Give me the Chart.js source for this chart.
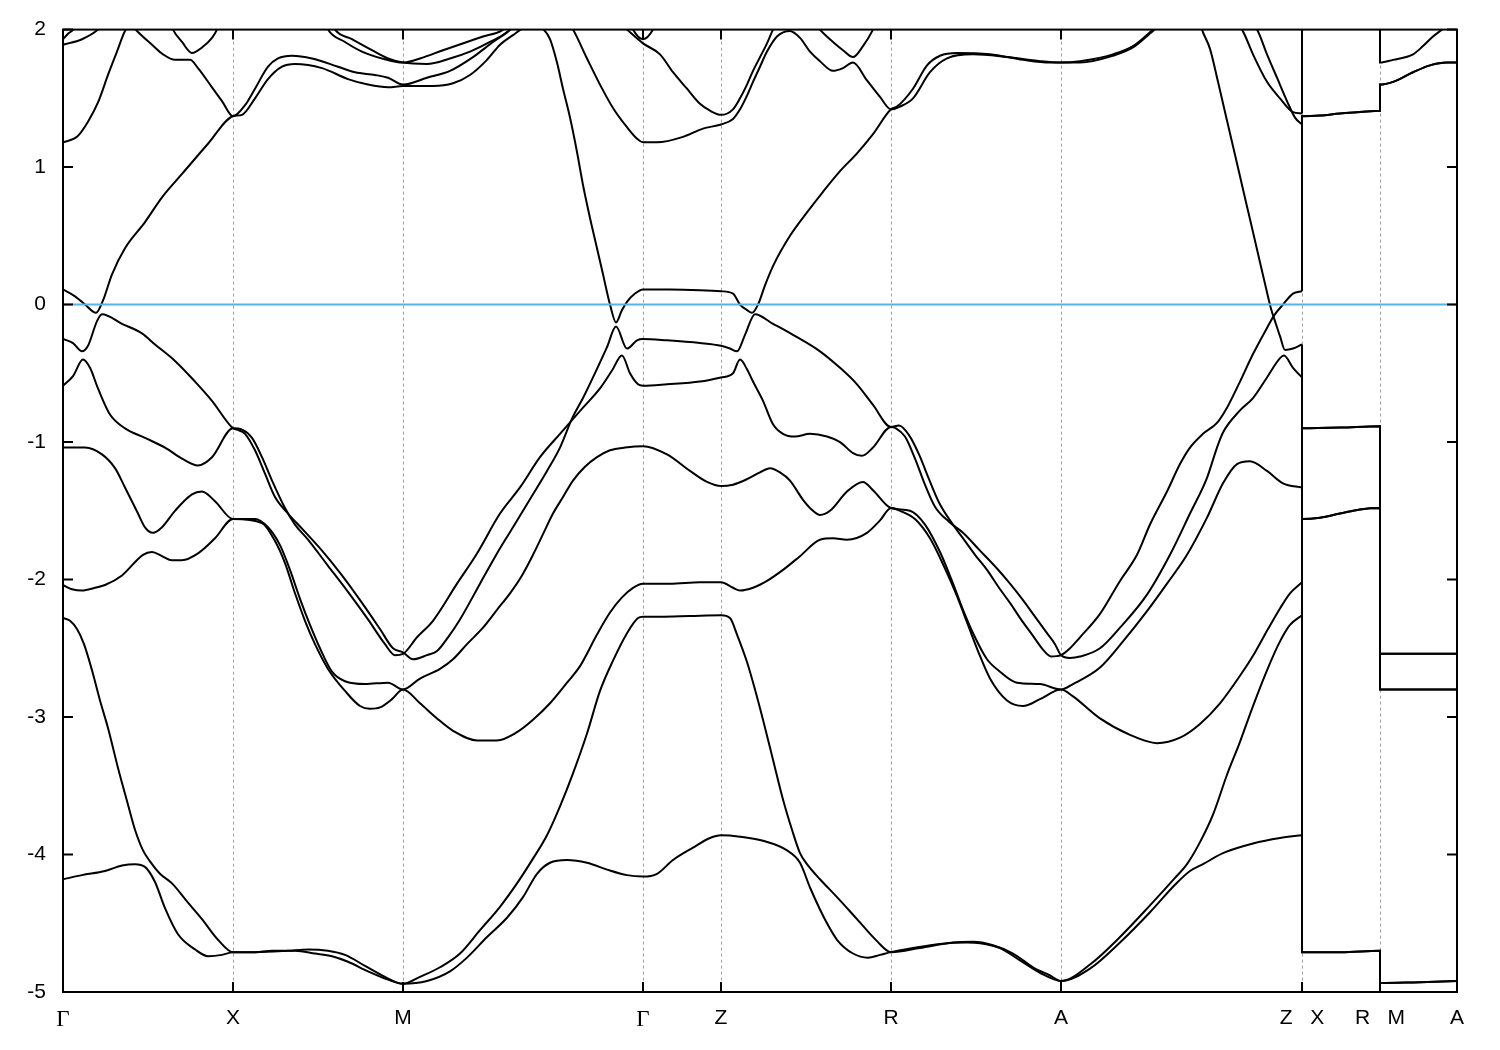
<!DOCTYPE html>
<html>
<head>
<meta charset="utf-8">
<title>Band structure</title>
<script src="https://cdn.jsdelivr.net/npm/chart.js@4.4.1/dist/chart.umd.min.js"></script>
<style>
  html, body { margin: 0; padding: 0; background: #fff; }
  #plot { display: block; }
</style>
</head>
<body>
<canvas id="plot" width="1500" height="1050"></canvas>
<script>
// k-path (path length) of the high symmetry points and their labels
const kTicks = [0, 1.70, 3.40, 5.80, 6.58, 8.28, 9.98, 12.39, 13.17, 13.94];
const kLabels = ['Γ', 'X', 'M', 'Γ', 'Z', 'R', 'A', 'Z   X', 'R   M', 'A'];
const energyTicks = [-5, -4, -3, -2, -1, 0, 1, 2];
const fermiLevel = 0;

// bands along Γ-X-M-Γ-Z-R-A-Z, [k, E]
const band1 = [
  [0,-4.18],[0.19,-4.15],[0.42,-4.12],[0.59,-4.08],[0.72,-4.07],[0.82,-4.09],[0.92,-4.20],[1.02,-4.39],[1.15,-4.58],[1.32,-4.69],[1.45,-4.74],[1.59,-4.73],[1.70,-4.71],
  [1.92,-4.71],[2.09,-4.70],[2.32,-4.70],[2.52,-4.72],[2.69,-4.74],[2.85,-4.78],[3.05,-4.85],[3.25,-4.91],[3.40,-4.94],
  [3.64,-4.92],[3.87,-4.85],[4.04,-4.75],[4.24,-4.60],[4.44,-4.46],[4.60,-4.31],[4.74,-4.14],[4.87,-4.06],[5.04,-4.04],[5.24,-4.06],[5.44,-4.11],[5.64,-4.15],[5.80,-4.16],
  [5.94,-4.14],[6.10,-4.04],[6.30,-3.95],[6.47,-3.88],[6.58,-3.86],
  [6.77,-3.87],[7.00,-3.90],[7.24,-3.97],[7.37,-4.06],[7.47,-4.24],[7.57,-4.40],[7.64,-4.50],[7.74,-4.62],[7.90,-4.72],[8.05,-4.75],[8.17,-4.73],[8.28,-4.71],
  [8.50,-4.68],[8.77,-4.65],[9.04,-4.64],[9.17,-4.645],[9.37,-4.68],[9.57,-4.77],[9.77,-4.86],[9.98,-4.92],
  [10.27,-4.83],[10.57,-4.64],[10.87,-4.42],[11.12,-4.22],[11.27,-4.12],[11.40,-4.07],[11.60,-3.99],[11.90,-3.92],[12.17,-3.88],[12.39,-3.86]
];
const band2 = [
  [0,-2.28],[0.07,-2.30],[0.14,-2.36],[0.21,-2.47],[0.29,-2.66],[0.37,-2.88],[0.45,-3.08],[0.55,-3.37],[0.64,-3.61],[0.72,-3.82],[0.80,-3.97],[0.87,-4.05],[0.97,-4.14],[1.09,-4.21],[1.25,-4.35],[1.39,-4.47],[1.55,-4.62],[1.70,-4.71],
  [1.92,-4.71],[2.25,-4.70],[2.45,-4.69],[2.65,-4.70],[2.82,-4.73],[3.02,-4.81],[3.22,-4.89],[3.40,-4.94],
  [3.57,-4.89],[3.77,-4.82],[3.97,-4.72],[4.17,-4.55],[4.37,-4.38],[4.54,-4.21],[4.70,-4.03],[4.84,-3.86],[4.97,-3.65],[5.10,-3.41],[5.24,-3.12],[5.37,-2.81],[5.50,-2.59],[5.64,-2.39],[5.75,-2.28],[5.80,-2.27],
  [5.97,-2.27],[6.27,-2.265],[6.58,-2.26],
  [6.67,-2.28],[6.74,-2.40],[6.84,-2.60],[6.92,-2.80],[7.00,-3.02],[7.10,-3.31],[7.20,-3.60],[7.29,-3.82],[7.37,-3.99],[7.44,-4.07],[7.57,-4.18],[7.74,-4.31],[7.94,-4.47],[8.14,-4.63],[8.28,-4.71],
  [8.57,-4.68],[8.90,-4.64],[9.10,-4.635],[9.30,-4.66],[9.50,-4.72],[9.70,-4.82],[9.87,-4.88],[9.98,-4.92],
  [10.27,-4.80],[10.57,-4.60],[10.87,-4.37],[11.12,-4.17],[11.24,-4.07],[11.37,-3.91],[11.50,-3.71],[11.64,-3.42],[11.77,-3.18],[11.90,-2.92],[12.04,-2.66],[12.17,-2.45],[12.27,-2.33],[12.39,-2.26]
];
const band3 = [
  [0,-2.04],[0.09,-2.07],[0.19,-2.08],[0.32,-2.06],[0.42,-2.04],[0.59,-1.97],[0.80,-1.82],[0.89,-1.80],[0.99,-1.83],[1.09,-1.86],[1.19,-1.86],[1.35,-1.81],[1.52,-1.70],[1.70,-1.56],
  [1.99,-1.59],[2.12,-1.72],[2.22,-1.88],[2.32,-2.10],[2.42,-2.30],[2.52,-2.47],[2.65,-2.65],[2.82,-2.81],[2.97,-2.92],[3.07,-2.94],[3.17,-2.93],[3.29,-2.87],[3.40,-2.80],
  [3.57,-2.90],[3.74,-3.01],[3.90,-3.10],[4.14,-3.17],[4.34,-3.17],[4.54,-3.11],[4.70,-3.02],[4.87,-2.90],[5.04,-2.75],[5.17,-2.63],[5.34,-2.40],[5.47,-2.24],[5.59,-2.13],[5.70,-2.06],[5.80,-2.03],
  [6.07,-2.03],[6.37,-2.02],[6.58,-2.02],
  [6.70,-2.06],[6.77,-2.08],[6.90,-2.06],[7.04,-2.01],[7.20,-1.93],[7.37,-1.83],[7.57,-1.71],[7.70,-1.70],[7.84,-1.71],[8.04,-1.66],[8.17,-1.57],[8.28,-1.48],
  [8.37,-1.50],[8.52,-1.56],[8.67,-1.70],[8.82,-1.92],[8.94,-2.12],[9.05,-2.33],[9.15,-2.52],[9.27,-2.72],[9.44,-2.88],[9.60,-2.92],[9.77,-2.87],[9.98,-2.80],
  [10.10,-2.85],[10.37,-3.01],[10.67,-3.13],[10.94,-3.19],[11.17,-3.15],[11.37,-3.05],[11.57,-2.90],[11.77,-2.70],[11.92,-2.53],[12.05,-2.36],[12.17,-2.21],[12.27,-2.10],[12.39,-2.02]
];
const band4 = [
  [0,-1.04],[0.22,-1.04],[0.39,-1.09],[0.52,-1.19],[0.62,-1.33],[0.75,-1.52],[0.82,-1.62],[0.90,-1.66],[0.99,-1.62],[1.12,-1.50],[1.29,-1.38],[1.39,-1.36],[1.52,-1.43],[1.70,-1.56],
  [1.92,-1.56],[2.05,-1.62],[2.17,-1.75],[2.27,-1.93],[2.37,-2.14],[2.47,-2.33],[2.57,-2.50],[2.69,-2.67],[2.82,-2.74],[3.02,-2.76],[3.25,-2.75],[3.40,-2.80],
  [3.57,-2.72],[3.77,-2.65],[3.90,-2.58],[4.04,-2.47],[4.20,-2.35],[4.34,-2.22],[4.47,-2.10],[4.59,-1.97],[4.70,-1.82],[4.80,-1.67],[4.90,-1.52],[5.00,-1.40],[5.10,-1.28],[5.22,-1.18],[5.34,-1.11],[5.47,-1.06],[5.62,-1.04],[5.80,-1.03],
  [6.04,-1.09],[6.27,-1.21],[6.44,-1.29],[6.58,-1.32],
  [6.70,-1.31],[6.84,-1.27],[6.97,-1.22],[7.07,-1.19],[7.17,-1.22],[7.27,-1.28],[7.40,-1.42],[7.50,-1.50],[7.57,-1.53],[7.67,-1.50],[7.84,-1.36],[8.00,-1.29],[8.10,-1.35],[8.28,-1.48],
  [8.47,-1.50],[8.62,-1.60],[8.77,-1.80],[8.89,-2.01],[9.00,-2.22],[9.12,-2.42],[9.24,-2.58],[9.37,-2.67],[9.54,-2.75],[9.77,-2.76],[9.98,-2.80],
  [10.10,-2.76],[10.37,-2.64],[10.60,-2.45],[10.84,-2.23],[11.04,-2.03],[11.24,-1.82],[11.44,-1.55],[11.60,-1.30],[11.74,-1.16],[11.87,-1.14],[12.04,-1.21],[12.20,-1.30],[12.39,-1.33]
];
const band5 = [
  [0,-0.59],[0.10,-0.52],[0.20,-0.40],[0.27,-0.46],[0.35,-0.61],[0.47,-0.80],[0.62,-0.90],[0.82,-0.97],[1.02,-1.04],[1.19,-1.12],[1.35,-1.17],[1.49,-1.11],[1.70,-0.90],
  [1.79,-0.91],[1.89,-0.97],[1.99,-1.11],[2.09,-1.28],[2.22,-1.48],[2.32,-1.60],[2.45,-1.71],[2.65,-1.90],[2.85,-2.09],[3.05,-2.29],[3.22,-2.47],[3.32,-2.55],[3.40,-2.54],
  [3.54,-2.42],[3.70,-2.30],[3.94,-2.03],[4.14,-1.81],[4.37,-1.52],[4.57,-1.33],[4.77,-1.11],[4.97,-0.94],[5.09,-0.84],[5.20,-0.75],[5.37,-0.61],[5.49,-0.48],[5.59,-0.37],[5.67,-0.50],[5.75,-0.58],[5.80,-0.59],
  [6.04,-0.58],[6.37,-0.56],[6.58,-0.53],
  [6.70,-0.50],[6.77,-0.40],[6.84,-0.47],[6.90,-0.56],[7.00,-0.70],[7.10,-0.87],[7.20,-0.94],[7.32,-0.96],[7.47,-0.94],[7.64,-0.96],[7.77,-1.00],[7.90,-1.08],[7.99,-1.10],[8.10,-1.04],[8.28,-0.89],
  [8.33,-0.90],[8.42,-0.96],[8.52,-1.12],[8.62,-1.31],[8.72,-1.47],[8.86,-1.58],[9.00,-1.66],[9.17,-1.79],[9.34,-1.92],[9.47,-2.03],[9.60,-2.15],[9.72,-2.27],[9.84,-2.39],[9.92,-2.47],[9.98,-2.55],
  [10.07,-2.57],[10.17,-2.56],[10.37,-2.50],[10.57,-2.35],[10.84,-2.11],[11.07,-1.82],[11.27,-1.52],[11.44,-1.26],[11.54,-1.04],[11.60,-0.93],[11.77,-0.77],[11.90,-0.68],[12.04,-0.53],[12.17,-0.39],[12.21,-0.37],[12.30,-0.46],[12.39,-0.53]
];
const band6 = [
  [0,-0.25],[0.10,-0.28],[0.19,-0.34],[0.25,-0.30],[0.34,-0.12],[0.39,-0.07],[0.59,-0.14],[0.79,-0.21],[0.92,-0.29],[1.12,-0.41],[1.32,-0.56],[1.49,-0.70],[1.70,-0.90],
  [1.74,-0.91],[1.82,-0.94],[1.92,-1.06],[2.02,-1.23],[2.12,-1.40],[2.25,-1.52],[2.39,-1.63],[2.59,-1.79],[2.79,-1.97],[2.99,-2.17],[3.17,-2.36],[3.30,-2.50],[3.40,-2.53],
  [3.50,-2.58],[3.64,-2.55],[3.74,-2.52],[3.85,-2.42],[3.97,-2.29],[4.17,-2.03],[4.34,-1.81],[4.50,-1.62],[4.70,-1.38],[4.84,-1.21],[4.97,-1.04],[5.09,-0.83],[5.20,-0.68],[5.30,-0.53],[5.44,-0.31],[5.53,-0.16],[5.64,-0.32],[5.74,-0.26],[5.80,-0.25],
  [6.04,-0.26],[6.37,-0.28],[6.58,-0.30],
  [6.67,-0.32],[6.74,-0.34],[6.82,-0.22],[6.92,-0.07],[7.10,-0.14],[7.30,-0.22],[7.57,-0.34],[7.77,-0.46],[7.94,-0.58],[8.10,-0.73],[8.28,-0.89],
  [8.36,-0.88],[8.46,-0.95],[8.56,-1.09],[8.66,-1.27],[8.76,-1.44],[8.87,-1.57],[8.99,-1.69],[9.12,-1.82],[9.24,-1.93],[9.36,-2.06],[9.47,-2.17],[9.58,-2.29],[9.70,-2.41],[9.80,-2.51],[9.88,-2.56],[9.98,-2.55],
  [10.07,-2.50],[10.17,-2.42],[10.37,-2.25],[10.57,-2.01],[10.74,-1.82],[10.87,-1.60],[11.04,-1.36],[11.17,-1.16],[11.27,-1.04],[11.40,-0.94],[11.54,-0.86],[11.64,-0.75],[11.77,-0.56],[11.90,-0.36],[12.04,-0.17],[12.11,-0.08],[12.20,0.0],[12.30,0.08],[12.39,0.097]
];
const band7 = [
  [0,0.11],[0.12,0.06],[0.22,0.0],[0.33,-0.06],[0.40,0.03],[0.49,0.22],[0.62,0.41],[0.82,0.60],[0.99,0.78],[1.19,0.95],[1.45,1.17],[1.70,1.37],
  [1.79,1.38],[1.92,1.50],[2.05,1.64],[2.19,1.73],[2.32,1.75],[2.59,1.72],[2.85,1.64],[3.05,1.60],[3.25,1.58],[3.40,1.59],
  [3.70,1.59],[3.90,1.61],[4.07,1.67],[4.24,1.78],[4.37,1.89],[4.50,1.96],[4.62,2.02],[4.70,2.04],[4.78,2.02],[4.87,1.93],[4.94,1.76],[5.00,1.57],[5.07,1.36],[5.14,1.11],[5.20,0.87],[5.27,0.63],[5.34,0.41],[5.40,0.22],[5.47,0.0],[5.53,-0.13],[5.59,-0.04],[5.64,0.02],[5.72,0.08],[5.80,0.11],
  [6.07,0.11],[6.37,0.105],[6.58,0.097],
  [6.70,0.08],[6.77,0.0],[6.84,-0.04],[6.89,-0.06],[6.95,0.0],[7.02,0.14],[7.10,0.28],[7.27,0.50],[7.44,0.67],[7.60,0.82],[7.77,0.97],[7.94,1.10],[8.10,1.24],[8.28,1.42],
  [8.34,1.44],[8.50,1.57],[8.64,1.74],[8.77,1.81],[8.94,1.83],[9.27,1.82],[9.60,1.78],[9.87,1.76],[9.98,1.76],
  [10.17,1.77],[10.50,1.82],[10.70,1.88],[10.90,2.0],[11.10,2.12],[11.40,2.2],[11.62,2.12],[11.79,2.0],[11.90,1.82],[12.04,1.62],[12.17,1.50],[12.30,1.40],[12.39,1.39]
];
const band8 = [
  [0,1.18],[0.14,1.22],[0.25,1.33],[0.35,1.47],[0.45,1.67],[0.54,1.84],[0.62,1.99],[0.68,2.04],[0.74,1.99],[0.89,1.89],[1.00,1.82],[1.12,1.78],[1.27,1.78],[1.35,1.72],[1.49,1.58],[1.59,1.48],[1.70,1.37],
  [1.82,1.45],[1.92,1.57],[2.05,1.73],[2.15,1.79],[2.29,1.81],[2.49,1.79],[2.75,1.73],[2.92,1.69],[3.12,1.67],[3.25,1.65],[3.40,1.60],
  [3.64,1.65],[3.87,1.70],[4.10,1.80],[4.30,1.91],[4.44,1.98],[4.52,2.03],[4.67,2.12],[4.87,2.15],[5.02,2.08],[5.10,2.0],[5.24,1.79],[5.37,1.60],[5.50,1.43],[5.64,1.29],[5.75,1.20],[5.80,1.18],
  [5.94,1.18],[6.20,1.22],[6.40,1.28],[6.58,1.31],
  [6.70,1.35],[6.77,1.42],[6.84,1.52],[6.90,1.62],[6.97,1.73],[7.04,1.84],[7.14,1.95],[7.27,1.99],[7.37,1.94],[7.47,1.84],[7.57,1.77],[7.70,1.70],[7.80,1.72],[7.90,1.76],[8.04,1.63],[8.17,1.51],[8.28,1.42],
  [8.37,1.44],[8.50,1.50],[8.67,1.69],[8.84,1.79],[9.10,1.82],[9.44,1.80],[9.77,1.77],[9.98,1.76],
  [10.17,1.76],[10.50,1.81],[10.70,1.87],[10.90,1.99],[11.10,2.1],[11.40,2.2],[11.77,2.12],[11.94,2.0],[12.04,1.82],[12.14,1.65],[12.24,1.48],[12.32,1.36],[12.39,1.31]
];
const upperBand = [
  [5.37,2.3],[5.49,2.1],[5.64,2.0],[5.80,1.90],[5.97,1.82],[6.10,1.69],[6.24,1.57],[6.37,1.46],[6.47,1.41],[6.58,1.38],
  [6.70,1.42],[6.77,1.50],[6.84,1.60],[6.90,1.70],[6.97,1.80],[7.04,1.90],[7.10,2.0],[7.22,2.15],[7.47,2.1],[7.57,2.0],[7.70,1.91],[7.80,1.85],[7.90,1.80],[8.00,1.88],[8.10,2.0],[8.22,2.2]
];
const steepBand = [
  [11.30,2.25],[11.39,2.0],[11.47,1.86],[11.55,1.62],[11.63,1.37],[11.71,1.12],[11.79,0.87],[11.87,0.62],[11.95,0.37],[12.03,0.12],[12.08,-0.03],[12.12,-0.12],[12.17,-0.23],[12.22,-0.33],[12.30,-0.32],[12.39,-0.29]
];
const gammaCap = [[5.62,2.15],[5.70,2.0],[5.80,1.93],[5.90,2.0],[5.98,2.15]];
const gammaEdgeA = [[0,1.93],[0.05,1.97],[0.10,2.0],[0.17,2.1]];
const gammaEdgeB = [[0,1.89],[0.19,1.93],[0.35,2.0],[0.47,2.1]];
const xDip = [[1.02,2.15],[1.10,2.0],[1.19,1.91],[1.29,1.83],[1.39,1.87],[1.49,1.94],[1.54,2.0],[1.62,2.15]];
const mTopA = [[2.57,2.15],[2.65,2.0],[2.82,1.91],[2.99,1.84],[3.19,1.79],[3.40,1.76],[3.57,1.79],[3.80,1.85],[4.04,1.91],[4.20,1.95],[4.40,2.0],[4.52,2.1]];
const mTopB = [[2.62,2.15],[2.72,2.0],[2.89,1.93],[3.09,1.85],[3.25,1.79],[3.40,1.76],[3.64,1.75],[3.87,1.79],[4.07,1.84],[4.27,1.91],[4.47,2.0],[4.57,2.1]];

// zone face segments X-R and M-A
const xrLow = [[12.39,-4.71],[12.78,-4.71],[13.17,-4.70]];
const xrMid = [[12.39,-1.56],[12.57,-1.55],[12.77,-1.52],[12.97,-1.49],[13.17,-1.48]];
const xrUp = [[12.39,-0.90],[12.78,-0.895],[13.17,-0.885]];
const xrTop = [[12.39,1.37],[12.57,1.375],[12.77,1.39],[12.97,1.40],[13.17,1.41]];
const xrHigh = [[12.39,2.3],[13.17,2.3]];
const maLow = [[13.17,-4.935],[13.50,-4.93],[13.94,-4.92]];
const maMid = [[13.17,-2.80],[13.94,-2.80]];
const maUp = [[13.17,-2.54],[13.94,-2.54]];
const maTop = [[13.17,1.60],[13.30,1.62],[13.50,1.69],[13.67,1.74],[13.84,1.76],[13.94,1.76]];
const maHigh = [[13.17,1.76],[13.30,1.78],[13.50,1.82],[13.60,1.88],[13.70,1.95],[13.79,2.0],[13.94,2.1]];

const mainBands = [band1, band2, band3, band4, band5, band6, band7, band8, upperBand, steepBand, gammaCap, gammaEdgeA, gammaEdgeB, xDip, mTopA, mTopB];
const faceLinks = [band1, band3, band2, band5, band4, steepBand, band6, band8, band7];
const faceXR = [xrLow, xrLow, xrMid, xrMid, xrUp, xrUp, xrTop, xrTop, xrHigh];
const faceMA = [maLow, maLow, maMid, maMid, maUp, maUp, maTop, maTop, maHigh];

const sansFont = { family: "'Liberation Sans', Arial, sans-serif", size: 21 };
const serifFont = { family: "'Liberation Serif', 'DejaVu Serif', serif", size: 23 };

const framePlugin = {
  id: 'frame',
  beforeDatasetsDraw(chart) {
    const { ctx, chartArea: a, scales: { x } } = chart;
    ctx.save();
    ctx.strokeStyle = '#a0a0a0';
    ctx.lineWidth = 1;
    ctx.setLineDash([3, 3]);
    kTicks.slice(1, -1).forEach(k => {
      const px = Math.round(x.getPixelForValue(k)) + 0.5;
      ctx.beginPath();
      ctx.moveTo(px, a.top);
      ctx.lineTo(px, a.bottom);
      ctx.stroke();
    });
    ctx.restore();
  },
  afterDatasetsDraw(chart) {
    const { ctx, chartArea: a, scales: { x, y } } = chart;
    ctx.save();
    ctx.strokeStyle = '#000';
    ctx.lineWidth = 2;
    ctx.beginPath();
    energyTicks.forEach(e => {
      const py = y.getPixelForValue(e);
      ctx.moveTo(a.left, py); ctx.lineTo(a.left + 10, py);
      ctx.moveTo(a.right, py); ctx.lineTo(a.right - 10, py);
    });
    kTicks.forEach(k => {
      const px = x.getPixelForValue(k);
      ctx.moveTo(px, a.bottom); ctx.lineTo(px, a.bottom - 10);
      ctx.moveTo(px, a.top); ctx.lineTo(px, a.top + 10);
    });
    ctx.stroke();
    ctx.strokeRect(a.left, a.top, a.right - a.left, a.bottom - a.top);
    ctx.restore();
  }
};

class BandPlot {
  constructor(canvas) {
    this.chart = new Chart(canvas, this.config());
  }
  toPoints(arr) {
    return arr.map(([k, e]) => ({ x: k, y: e }));
  }
  lineSet(arr, extra) {
    return Object.assign({
      data: this.toPoints(arr),
      borderColor: '#000',
      borderWidth: 2,
      pointRadius: 0,
      fill: false,
      cubicInterpolationMode: 'monotone'
    }, extra || {});
  }
  datasets() {
    const sets = [];
    sets.push(this.lineSet([[kTicks[0], fermiLevel], [kTicks[kTicks.length - 1], fermiLevel]], {
      borderColor: '#56b4e9', order: -1, cubicInterpolationMode: 'default', tension: 0
    }));
    mainBands.forEach(b => sets.push(this.lineSet(b)));
    faceLinks.forEach((link, i) => {
      const zEnd = link[link.length - 1];
      sets.push(this.lineSet([zEnd, ...faceXR[i], ...faceMA[i]]));
    });
    return sets;
  }
  config() {
    return {
      type: 'line',
      data: { datasets: this.datasets() },
      options: {
        responsive: false,
        animation: false,
        events: [],
        layout: { padding: { top: 28, right: 43, left: 0, bottom: 0 } },
        plugins: { legend: { display: false }, tooltip: { enabled: false } },
        scales: {
          x: {
            type: 'linear',
            min: kTicks[0],
            max: kTicks[kTicks.length - 1],
            grid: { display: false, drawTicks: false },
            border: { display: false },
            afterBuildTicks: s => { s.ticks = kTicks.map(v => ({ value: v })); },
            afterFit: s => { s.height = 58; },
            ticks: {
              autoSkip: false,
              maxRotation: 0,
              minRotation: 0,
              padding: 14,
              color: '#000',
              callback: (v, i) => kLabels[i],
              font: c => (kLabels[c.index] === 'Γ' ? serifFont : sansFont)
            }
          },
          y: {
            type: 'linear',
            min: energyTicks[0],
            max: energyTicks[energyTicks.length - 1],
            grid: { display: false, drawTicks: false },
            border: { display: false },
            afterBuildTicks: s => { s.ticks = energyTicks.map(v => ({ value: v })); },
            afterFit: s => { s.width = 63; },
            ticks: {
              padding: 17,
              color: '#000',
              font: sansFont,
              callback: v => String(v)
            }
          }
        }
      },
      plugins: [framePlugin]
    };
  }
}

new BandPlot(document.getElementById('plot'));
</script>
</body>
</html>
